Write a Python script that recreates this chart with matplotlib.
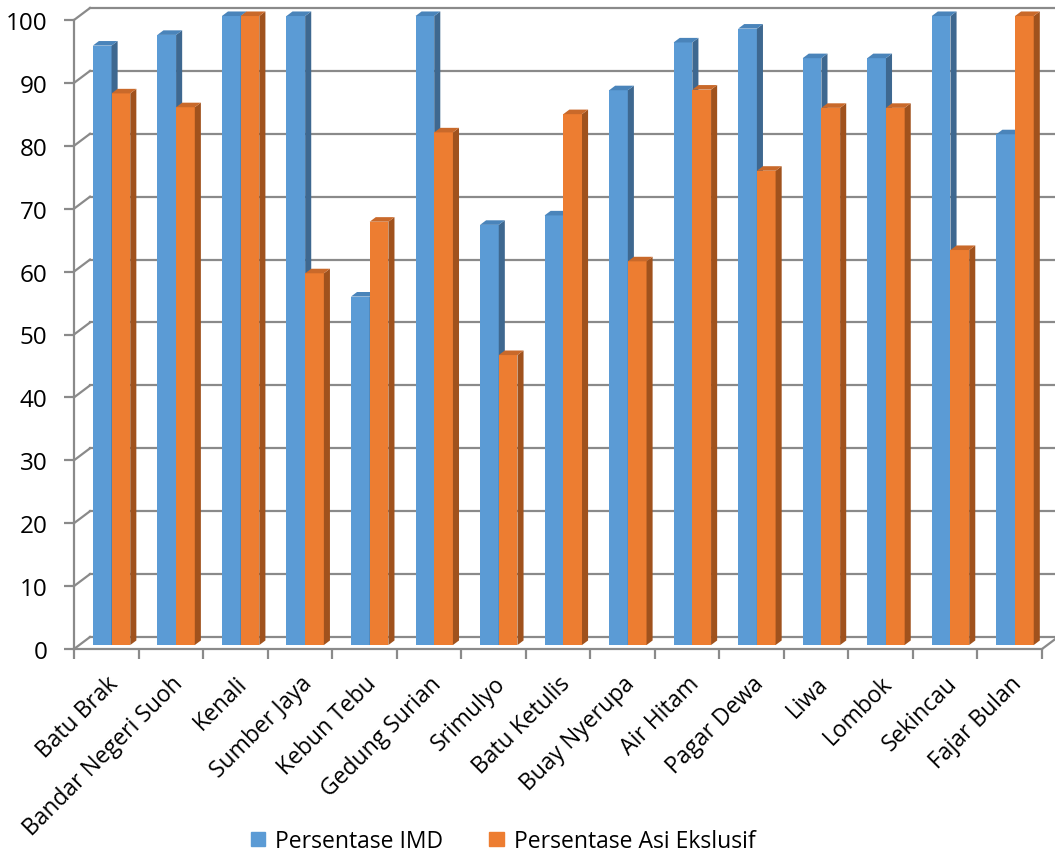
import numpy as np
import matplotlib.pyplot as plt
from matplotlib.patches import Polygon, Patch

plt.rcParams['font.family'] = ['Open Sans', 'DejaVu Sans']

# persentase per desa
desa = ['Batu Brak', 'Bandar Negeri Suoh', 'Kenali', 'Sumber Jaya', 'Kebun Tebu',
        'Gedung Surian', 'Srimulyo', 'Batu Ketulis', 'Buay Nyerupa', 'Air Hitam',
        'Pagar Dewa', 'Liwa', 'Lombok', 'Sekincau', 'Fajar Bulan']
imd = [95.3, 97.0, 100, 100, 55.4, 100, 66.8, 68.3, 88.2, 95.8, 98.0, 93.3, 93.3, 100, 81.2]
asi = [87.7, 85.5, 100, 59.1, 67.3, 81.5, 46.1, 84.4, 61.0, 88.3, 75.4, 85.4, 85.4, 62.8, 100]
yticks = list(range(0, 101, 10))

grid_col = '#8a8a8a'
txt_col = '#000000'
blue = ('#5b9bd5', '#3e6890', '#4a84ba')     # front, side, top
orange = ('#ed7d31', '#a0521d', '#c9692a')

# fake 3d: depth offset of the back wall (x in categories, y in data units)
DX = 0.248
DY = 1.91
f_front = 0.33   # depth where bar front faces sit
d_bar = 0.38     # bar depth
w = 0.29

fig = plt.figure(figsize=(10.55, 8.54), dpi=100)
ax = fig.add_axes([74/1055, 204/854, 968/1055, 629/854])
ax.set_xlim(-0.5, 14.5)
ax.set_ylim(0, 100)
ax.patch.set_visible(False)

# walls and gridlines
for v in yticks:
    ax.plot([-0.5, -0.5 + DX], [v, v + DY], color=grid_col, lw=1.6, clip_on=False, zorder=1)
    ax.plot([-0.5 + DX, 14.5 + DX + 0.2], [v + DY, v + DY], color=grid_col, lw=1.6,
            clip_on=False, zorder=1)
ax.plot([14.5, 14.5 + DX], [0, DY], color=grid_col, lw=1.6, clip_on=False, zorder=1)


def draw_bars(xs, vals, cols, z):
    ax.bar(xs - w/2, vals, width=w, bottom=f_front*DY, color=cols[0], zorder=z,
           clip_on=False)
    for x, v in zip(xs, vals):
        x0, x1 = x - w, x
        y0, y1 = f_front*DY, v + f_front*DY
        ox, oy = d_bar*DX, d_bar*DY
        side = Polygon([(x1, y0), (x1, y1), (x1 + ox, y1 + oy), (x1 + ox, y0 + oy)],
                       closed=True, facecolor=cols[1], edgecolor='none', zorder=z + 0.05,
                       clip_on=False)
        top = Polygon([(x0, y1), (x1, y1), (x1 + ox, y1 + oy), (x0 + ox, y1 + oy)],
                      closed=True, facecolor=cols[2], edgecolor='none', zorder=z + 0.05,
                      clip_on=False)
        ax.add_patch(side)
        ax.add_patch(top)


idx = np.arange(len(desa))
draw_bars(idx + f_front*DX, np.array(imd), blue, 2)
draw_bars(idx + f_front*DX + w, np.array(asi), orange, 2.2)

for s in ['top', 'right']:
    ax.spines[s].set_visible(False)
for s in ['left', 'bottom']:
    ax.spines[s].set_color(grid_col)
    ax.spines[s].set_linewidth(1.6)
    ax.spines[s].set_zorder(1)

ax.set_yticks(yticks)
ax.tick_params(axis='y', direction='out', length=7, width=1.6, color=grid_col,
               labelsize=17.5, pad=12, labelcolor=txt_col)
ax.set_xticks(idx)
ax.set_xticklabels(desa, rotation=45, ha='right', va='top', rotation_mode='anchor',
                   fontsize=16.5, color=txt_col)
ax.set_xticks(np.arange(-0.5, 15, 1), minor=True)
ax.tick_params(axis='x', which='major', length=0, pad=16)
ax.tick_params(axis='x', which='minor', direction='out', length=7, width=1.6, color=grid_col)

handles = [Patch(color=blue[0]), Patch(color=orange[0])]
fig.legend(handles, ['Persentase IMD', 'Persentase Asi Ekslusif'], loc='center',
           bbox_to_anchor=(0.477, 12/854), ncol=2, frameon=False, fontsize=16.5,
           handlelength=0.62, handleheight=0.62, handletextpad=0.45, columnspacing=2.0,
           labelcolor=txt_col, borderpad=0)

fig.savefig('out.png', dpi=100)
